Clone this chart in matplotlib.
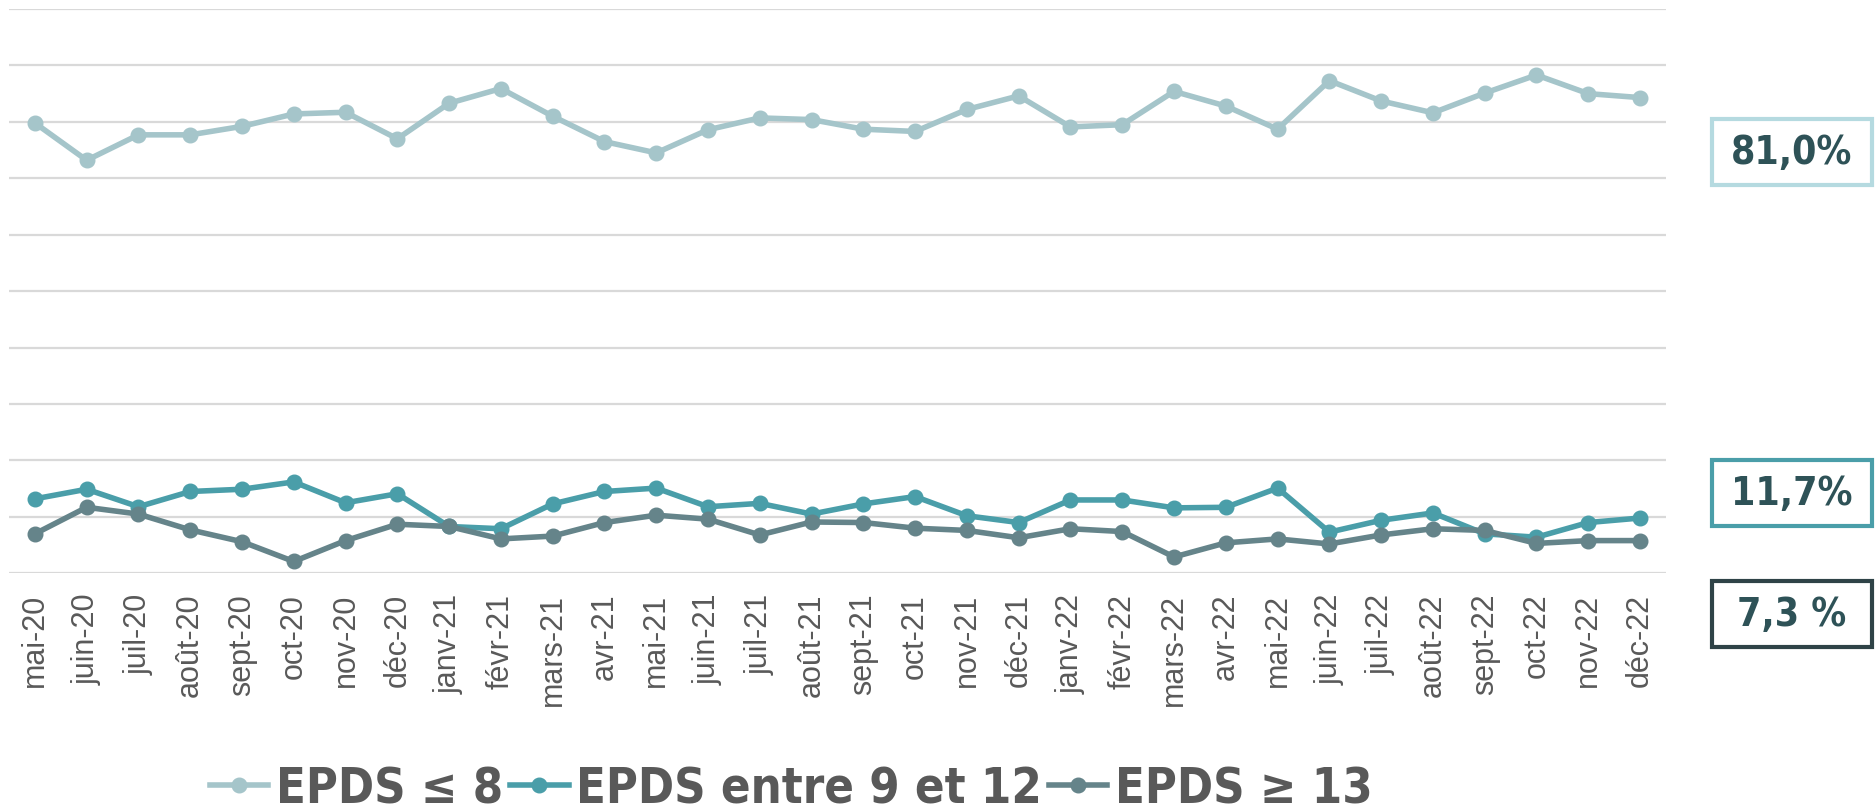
import numpy as np
import matplotlib
matplotlib.use("Agg")
from matplotlib import pyplot as plt
from matplotlib.patches import Rectangle

mois = ["mai-20", "juin-20", "juil-20", "août-20", "sept-20", "oct-20", "nov-20", "déc-20",
        "janv-21", "févr-21", "mars-21", "avr-21", "mai-21", "juin-21", "juil-21", "août-21",
        "sept-21", "oct-21", "nov-21", "déc-21", "janv-22", "févr-22", "mars-22", "avr-22",
        "mai-22", "juin-22", "juil-22", "août-22", "sept-22", "oct-22", "nov-22", "déc-22"]

epds_8 = [79.8, 73.2, 77.7, 77.7, 79.2, 81.4, 81.7, 77.0, 83.3, 85.9, 81.0, 76.5,
          74.5, 78.6, 80.7, 80.4, 78.7, 78.3, 82.2, 84.6, 79.1, 79.5, 85.4, 82.8,
          78.7, 87.3, 83.7, 81.6, 85.1, 88.3, 85.0, 84.3]
epds_9_12 = [13.2, 14.9, 11.8, 14.5, 14.9, 16.2, 12.5, 14.1, 8.3, 7.9, 12.3, 14.5,
             15.1, 11.8, 12.4, 10.5, 12.3, 13.6, 10.2, 9.0, 13.0, 13.0, 11.6, 11.7,
             15.1, 7.3, 9.4, 10.7, 7.0, 6.4, 9.0, 9.8]
epds_13 = [7.0, 11.7, 10.5, 7.7, 5.6, 2.1, 5.8, 8.7, 8.3, 6.1, 6.6, 9.0,
           10.3, 9.6, 6.8, 9.1, 9.0, 8.0, 7.6, 6.3, 7.9, 7.4, 2.9, 5.4,
           6.1, 5.2, 6.8, 7.9, 7.6, 5.3, 5.8, 5.8]

noms = ["EPDS ≤ 8", "EPDS entre 9 et 12", "EPDS ≥ 13"]
couleurs = ["#A5C5CA", "#4A9EA9", "#65848A"]
etiquettes = ["81,0%", "11,7%", "7,3 %"]
bords = ["#B5DAE0", "#4A9EA9", "#2F4347"]

narrow = ["Liberation Sans Narrow", "DejaVu Sans"]

fig = plt.figure(figsize=(18.75, 8.12), dpi=100)
ax = fig.add_axes([0.0048, 0.2927, 0.8837, 0.695])

x = np.arange(len(mois))
for serie, c, n in zip([epds_8, epds_9_12, epds_13], couleurs, noms):
    ax.plot(x, serie, color=c, lw=4, marker="o", ms=10.5, label=n)

ax.set_xlim(-0.5, len(mois) - 0.5)
ax.set_ylim(0, 100)
ax.set_yticks(np.arange(0, 101, 10))
ax.yaxis.grid(True, color="#D9D9D9", lw=1.6)
ax.set_axisbelow(True)
ax.tick_params(axis="y", left=False, labelleft=False)
ax.set_xticks(x)
ax.set_xticklabels(mois, rotation=90, fontsize=22, color="#595959",
                   family=["Liberation Sans", "DejaVu Sans"], fontstretch="normal")
ax.tick_params(axis="x", length=0, pad=14)
for s in ax.spines.values():
    s.set_visible(False)

# encadrés de droite
centres = [0.812, 0.392, 0.2432]
for lab, b, cy in zip(etiquettes, bords, centres):
    w, h = 160 / 1875, 66 / 812
    fig.patches.append(Rectangle((0.9555 - w / 2, cy - h / 2), w, h, transform=fig.transFigure,
                                 fill=True, facecolor="white", edgecolor=b, lw=3))
    fig.text(0.9555, cy, lab, ha="center", va="center", fontsize=28, fontweight="bold",
             fontstretch="condensed", color="#2E5257", family=narrow)

leg = fig.legend(loc="center", bbox_to_anchor=(0.422, 0.028), ncol=3, frameon=False,
                 handlelength=1.2, handletextpad=0.15, columnspacing=0.15,
                 prop={"family": narrow, "weight": "bold", "size": 35, "stretch": "condensed"})
for t in leg.get_texts():
    t.set_color("#595959")

fig.savefig("out.png", dpi=100)
